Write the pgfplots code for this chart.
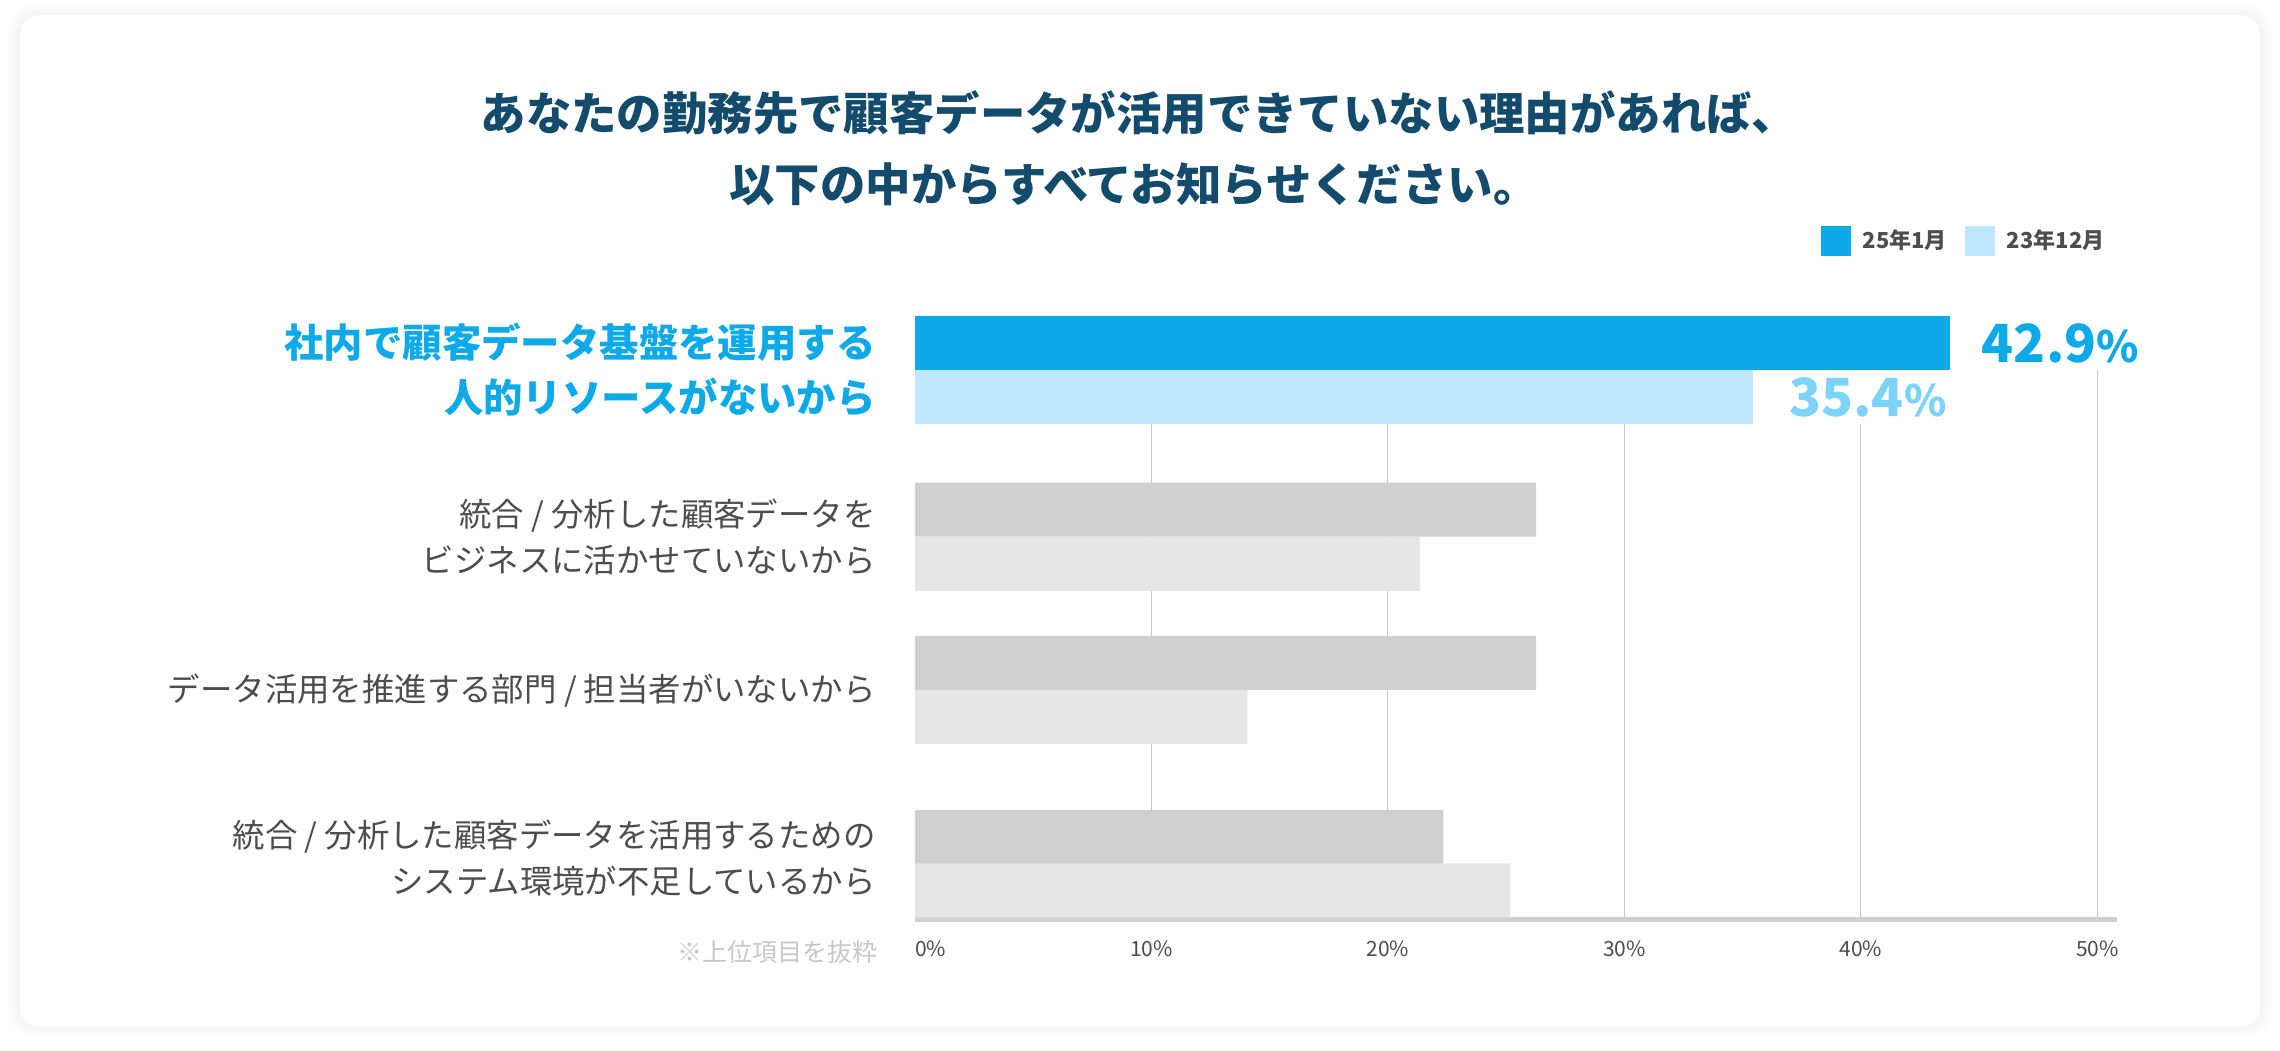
\documentclass[border=0pt]{standalone}
\usepackage{fontspec}
\setmainfont{Noto Sans CJK JP}
\usepackage{pgfplots}
\pgfplotsset{compat=1.18}
\definecolor{c25}{HTML}{0EA9E9}
\definecolor{c23}{HTML}{BDE7FC}
\definecolor{c23t}{HTML}{7DD3FA}
\definecolor{g25}{HTML}{D0D0D0}
\definecolor{g23}{HTML}{E6E6E6}
\definecolor{titlec}{HTML}{124B6C}
\definecolor{txt}{HTML}{4D4D4D}
\definecolor{note}{HTML}{C8C8C8}
\definecolor{gridc}{HTML}{C8C8C8}
\definecolor{axisc}{HTML}{D0D0D0}
\begin{document}
\begin{tikzpicture}[x=0.5pt,y=0.5pt]
\fill[white] (0,0) rectangle (2280,1050);
\foreach \d in {2,4,6,8,10,12}{
  \fill[black,opacity=0.007,rounded corners=12pt] (20-\d,25-\d) rectangle (2260+\d,1035+\d-2);
}
\fill[white,rounded corners=10pt] (20,23) rectangle (2260,1035);
\node[font=\fontsize{22.7pt}{27pt}\selectfont\bfseries, text=titlec] at (1139,937) {あなたの勤務先で顧客データが活用できていない理由があれば、};
\node[font=\fontsize{22.7pt}{27pt}\selectfont\bfseries, text=titlec] at (1134,866) {以下の中からすべてお知らせください。};
\node[anchor=east, inner sep=0pt, text=note, font=\fontsize{12.5pt}{15pt}\selectfont] at (878,98) {※上位項目を抜粋};
\begin{axis}[
  at={(457.5pt,65.5pt)}, anchor=south west,
  scale only axis, width=600.85pt, height=274.5pt,
  xmin=0, xmax=50.82, ymin=131, ymax=680,
  clip=false,
  axis x line*=bottom, axis y line*=left,
  x axis line style={line width=2.5pt, draw=axisc, -},
  y axis line style={draw=none},
  xtick={10,20,30,40,50},
  xticklabels={10\%,20\%,30\%,40\%,50\%},
  extra x ticks={0},
  extra x tick labels={\makebox[0pt][l]{0\%}},
  extra x tick style={grid=none},
  xmajorgrids,
  major grid style={draw=gridc, line width=0.5pt},
  major tick length=0pt, tick style={draw=none},
  xticklabel style={font=\fontsize{10.5pt}{13pt}\selectfont, text=txt, inner sep=0pt, anchor=north, yshift=-10.8pt},
  ytick={676,510,358,189},
  yticklabels={
    {\fontsize{19.7pt}{27.5pt}\selectfont\bfseries\color{c25}\begin{tabular}{@{}r@{}}社内で顧客データ基盤を運用する\\人的リソースがないから\end{tabular}},
    {\fontsize{16.2pt}{23pt}\selectfont\color{txt}\begin{tabular}{@{}r@{}}統合 / 分析した顧客データを\\ビジネスに活かせていないから\end{tabular}},
    {\fontsize{16.2pt}{23pt}\selectfont\color{txt}\begin{tabular}{@{}r@{}}データ活用を推進する部門 / 担当者がいないから\end{tabular}},
    {\fontsize{16.2pt}{23pt}\selectfont\color{txt}\begin{tabular}{@{}r@{}}統合 / 分析した顧客データを活用するための\\システム環境が不足しているから\end{tabular}}
  },
  yticklabel style={anchor=east, inner sep=0pt, xshift=-19.5pt},
  legend columns=2,
  legend cell align=left,
  legend image code/.code={\fill[#1,draw=none] (0pt,-7.5pt) rectangle (15pt,7.5pt); \path (21pt,0pt);},
  legend style={at={(axis cs:38.3,809)}, anchor=west, draw=none, fill=none,
    inner sep=0pt, outer sep=0pt,
    nodes={inner sep=0pt, font=\fontsize{11pt}{13pt}\selectfont\bfseries, text=txt},
    /tikz/every even column/.append style={column sep=9pt}},
]
\addplot[xbar, bar width=54, bar shift=0pt, fill=c25, draw=none,
  point meta=explicit symbolic,
  nodes near coords={\fontsize{26.3pt}{30pt}\selectfont\pgfplotspointmeta{\fontsize{21.5pt}{24pt}\selectfont\%}},
  nodes near coords style={anchor=west, xshift=16pt, inner xsep=0pt, inner ysep=3.5pt, fill=white, text=c25, font=\bfseries}]
  coordinates {(43.75,707) [42.9]};
\addlegendentry{25年1月}
\addplot[xbar, bar width=54, bar shift=0pt, fill=c23, draw=none,
  point meta=explicit symbolic,
  nodes near coords={\fontsize{26.3pt}{30pt}\selectfont\pgfplotspointmeta{\fontsize{21.5pt}{24pt}\selectfont\%}},
  nodes near coords style={anchor=west, xshift=18pt, inner xsep=0pt, inner ysep=3.5pt, fill=white, text=c23t, font=\bfseries}]
  coordinates {(35.44,653) [35.4]};
\addlegendentry{23年12月}
\addplot[xbar, bar width=54, bar shift=0pt, fill=g25, draw=none, forget plot]
  coordinates {(26.27,540.3) (26.27,387) (22.34,213)};
\addplot[xbar, bar width=54, bar shift=0pt, fill=g23, draw=none, forget plot]
  coordinates {(21.36,486.1) (14.06,333) (25.18,159.6)};
\end{axis}
\end{tikzpicture}
\end{document}
